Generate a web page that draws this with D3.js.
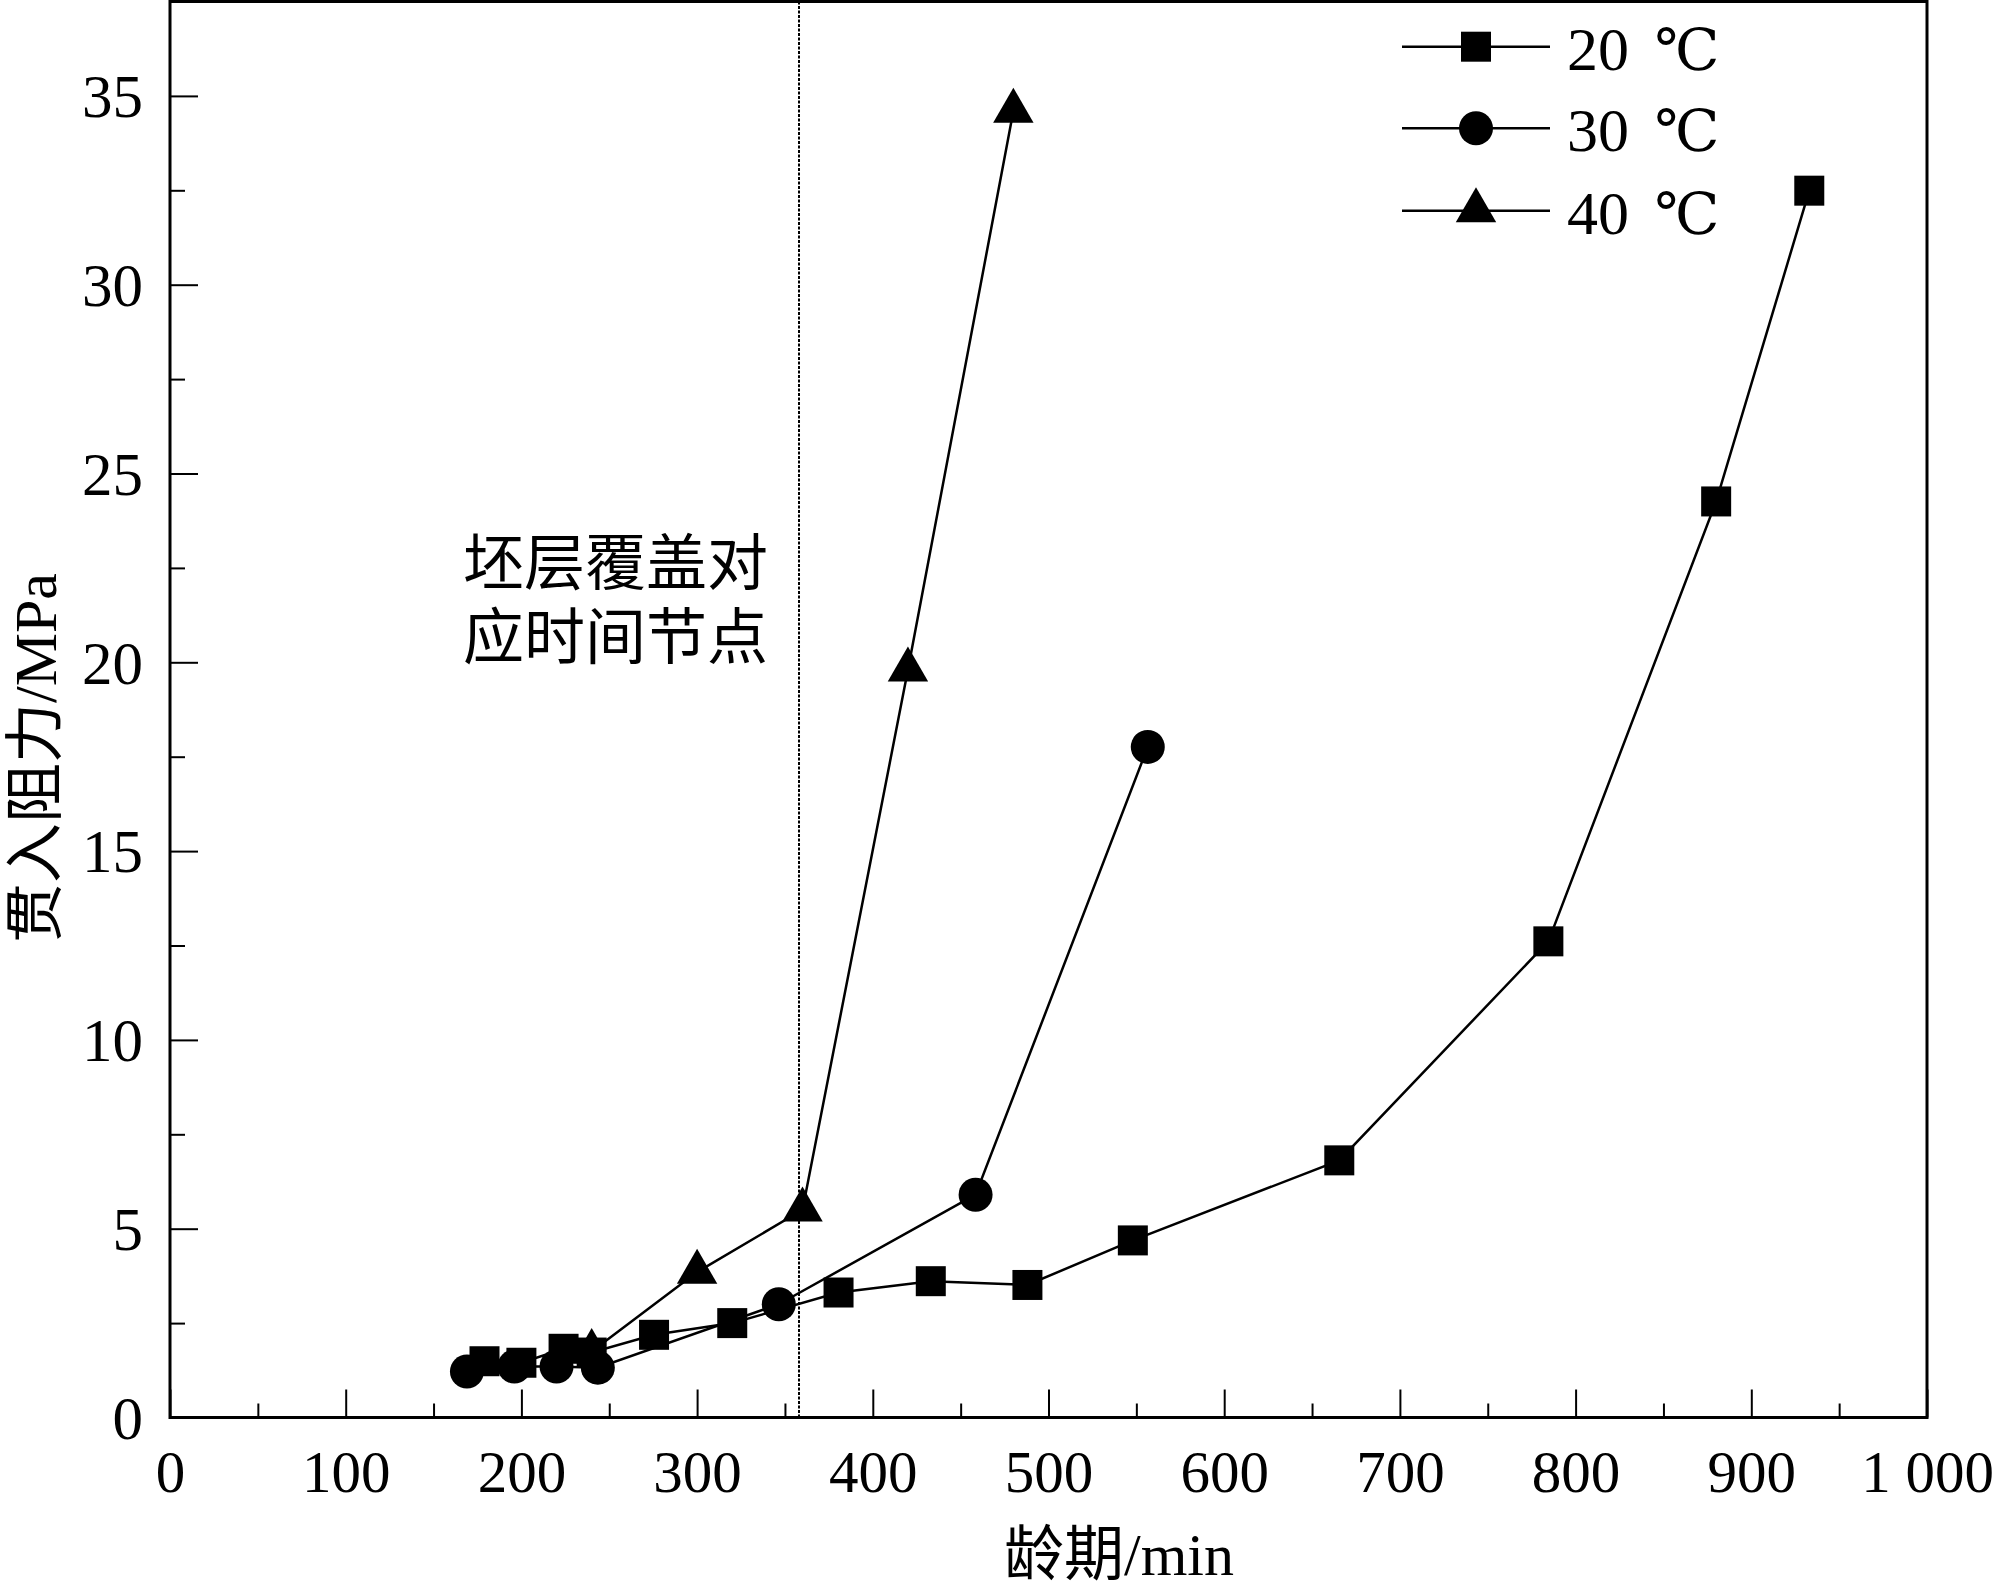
<!DOCTYPE html>
<html>
<head>
<meta charset="utf-8">
<script src="https://cdn.jsdelivr.net/npm/d3@7"></script>
<style>
  html, body { margin: 0; padding: 0; background: #fff; }
  svg { display: block; }
</style>
</head>
<body>
<svg id="chart" width="1995" height="1594"></svg>
<script>
// ---- data ----
const series20 = [
  [179, 1.49], [200, 1.45], [224, 1.82], [240, 1.72], [275.5, 2.19], [320, 2.50],
  [380.5, 3.31], [433, 3.61], [488, 3.51], [548, 4.69], [665.5, 6.81], [784.5, 12.61],
  [880, 24.26], [933, 32.49]
];
const series30 = [
  [169, 1.22], [196, 1.35], [220, 1.35], [243.5, 1.32], [346.5, 3.0], [458.5, 5.9], [556.5, 17.76]
];
const series40 = [
  [240, 1.75], [300, 3.85], [360, 5.5], [420, 19.8], [480, 34.6]
];
const seriesTemps = ["20", "30", "40"];
const unitLabel = "℃";
const xTickValues = [0, 100, 200, 300, 400, 500, 600, 700, 800, 900, 1000];
const xTickLabels = ["0", "100", "200", "300", "400", "500", "600", "700", "800", "900", "1 000"];
const xMinorTicks = [50, 150, 250, 350, 450, 550, 650, 750, 850, 950];
const yTickValues = [0, 5, 10, 15, 20, 25, 30, 35];
const yTickLabels = ["0", "5", "10", "15", "20", "25", "30", "35"];
const yMinorTicks = [2.5, 7.5, 12.5, 17.5, 22.5, 27.5, 32.5];
const markerLine = [358];
const xTitle = "龄期/min";
const yTitle = "贯入阻力/MPa";
const noteLines = ["坯层覆盖对", "应时间节点"];

// ---- layout ----
const L = 170, R = 1927, T = 1.5, B = 1417.5;
const FONT = "'Liberation Serif', 'Times New Roman', 'Noto Sans CJK SC', serif";
const CJK = "'Noto Sans CJK SC', 'Liberation Serif', sans-serif";

const svg = d3.select("#chart");
const x = d3.scaleLinear().domain([0, 1000]).range([L, R]);
const y = d3.scaleLinear().domain([0, 37.5]).range([B, T]);

// minor ticks
svg.append("g").attr("transform", `translate(0,${B})`)
  .call(d3.axisBottom(x).tickValues(xMinorTicks).tickSize(-14).tickFormat(""))
  .call(g => g.select(".domain").remove())
  .call(g => g.selectAll("line").attr("stroke", "#000").attr("stroke-width", 2));
svg.append("g").attr("transform", `translate(${L},0)`)
  .call(d3.axisLeft(y).tickValues(yMinorTicks).tickSize(-15).tickFormat(""))
  .call(g => g.select(".domain").remove())
  .call(g => g.selectAll("line").attr("stroke", "#000").attr("stroke-width", 2));

// major ticks
const xa = svg.append("g").attr("transform", `translate(0,${B})`)
  .call(d3.axisBottom(x).tickValues(xTickValues).tickSize(-28)
    .tickFormat((d, i) => xTickLabels[i]))
  .call(g => g.select(".domain").remove());
xa.selectAll("line").attr("stroke", "#000").attr("stroke-width", 2);
xa.selectAll("text").attr("y", 74).attr("dy", 0)
  .attr("font-family", FONT).attr("font-size", 59).attr("fill", "#000");

const ya = svg.append("g").attr("transform", `translate(${L},0)`)
  .call(d3.axisLeft(y).tickValues(yTickValues).tickSize(-28)
    .tickFormat((d, i) => yTickLabels[i]))
  .call(g => g.select(".domain").remove());
ya.selectAll("line").attr("stroke", "#000").attr("stroke-width", 2);
ya.selectAll("text").attr("x", -27).attr("dy", "0.34em")
  .attr("font-family", FONT).attr("font-size", 61).attr("fill", "#000");

// frame
svg.append("rect").attr("x", L).attr("y", T).attr("width", R - L).attr("height", B - T)
  .attr("fill", "none").attr("stroke", "#000").attr("stroke-width", 3);

// dashed vertical line
svg.selectAll(".vline").data(markerLine).enter().append("line")
  .attr("x1", d => x(d)).attr("x2", d => x(d))
  .attr("y1", T).attr("y2", B)
  .attr("stroke", "#000").attr("stroke-width", 2).attr("stroke-dasharray", "3,1.5");

// annotation (one text block, two lines)
const note = svg.append("text")
  .attr("font-family", CJK).attr("font-size", 61).attr("fill", "#000");
note.selectAll("tspan").data(noteLines).enter().append("tspan")
  .attr("x", 463).attr("y", (d, i) => 585 + i * 74)
  .text(d => d);

// series
const line = d3.line().x(d => x(d[0])).y(d => y(d[1]));
const allSeries = [
  { data: series20, sym: d3.symbolSquare, size: 900 },
  { data: series30, sym: d3.symbolCircle, size: 908 },
  { data: series40, sym: d3.symbolTriangle, size: 707 }
];
allSeries.forEach(s => {
  svg.append("path").datum(s.data).attr("d", line)
    .attr("fill", "none").attr("stroke", "#000").attr("stroke-width", 2.5);
});
allSeries.forEach(s => {
  svg.append("g").selectAll("path").data(s.data).enter().append("path")
    .attr("transform", d => `translate(${x(d[0])},${y(d[1])})`)
    .attr("d", d3.symbol().type(s.sym).size(s.size))
    .attr("fill", "#000");
});

// legend
const legRows = [46.7, 128.3, 210.7];
allSeries.forEach((s, i) => {
  const g = svg.append("g").attr("transform", `translate(0,${legRows[i]})`);
  g.append("line").attr("x1", 1402).attr("x2", 1550).attr("y1", 0).attr("y2", 0)
    .attr("stroke", "#000").attr("stroke-width", 2.5);
  g.append("path").attr("transform", "translate(1476,0)")
    .attr("d", d3.symbol().type(s.sym).size(s.size)).attr("fill", "#000");
  const t = g.append("text").attr("x", 1567).attr("y", 23)
    .attr("font-family", FONT).attr("font-size", 62).attr("fill", "#000");
  t.append("tspan").text(seriesTemps[i] + " ");
  t.append("tspan").attr("dx", 10)
    .attr("font-family", "'DejaVu Serif', 'Noto Sans CJK SC', serif")
    .attr("font-size", 58)
    .text(unitLabel);
});

// axis titles
svg.append("text").attr("x", 1119).attr("y", 1555)
  .attr("text-anchor", "middle").attr("dominant-baseline", "central")
  .attr("font-family", FONT).attr("font-size", 60).attr("fill", "#000")
  .text(xTitle);
svg.append("text").attr("transform", "translate(36,758) rotate(-90)")
  .attr("text-anchor", "middle").attr("dominant-baseline", "central")
  .attr("font-family", FONT).attr("font-size", 60).attr("fill", "#000")
  .text(yTitle);
</script>
</body>
</html>
